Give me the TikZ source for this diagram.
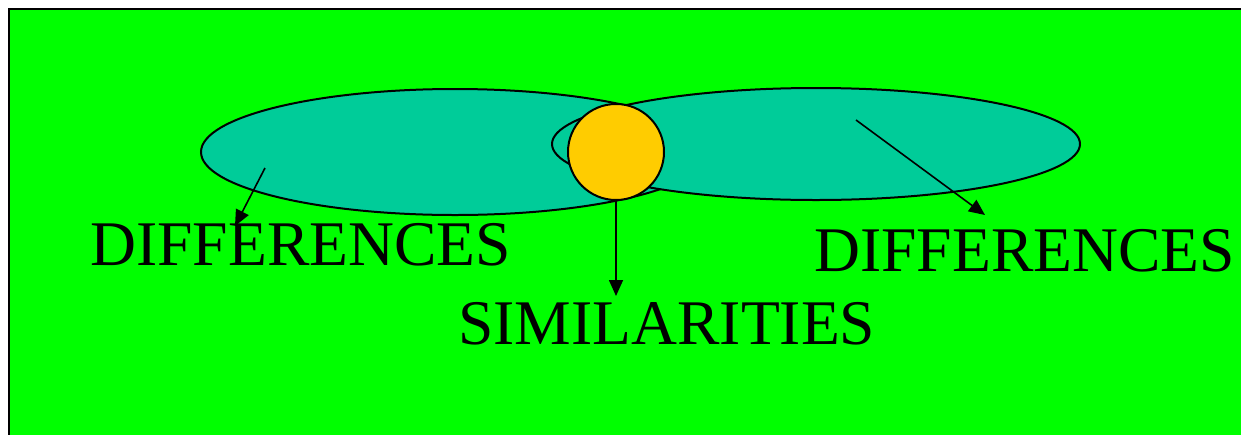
\documentclass[tikz,border=0pt]{standalone}
\usepackage{fontspec}
\setmainfont{Liberation Serif}
\usetikzlibrary{shapes.geometric,arrows.meta}
\definecolor{bggreen}{RGB}{0,255,0}
\definecolor{teal1}{RGB}{0,204,153}
\definecolor{gold1}{RGB}{255,204,0}
\begin{document}
\begin{tikzpicture}[x=0.5pt,y=-0.5pt,
  oval/.style={ellipse,draw=black,fill=teal1,line width=1pt,inner sep=0pt},
  ball/.style={circle,draw=black,fill=gold1,line width=1pt,inner sep=0pt,minimum size=48pt},
  lbl/.style={anchor=base west,inner sep=0pt,font=\fontsize{31.8}{36}\selectfont},
  arr/.style={line width=0.8pt,-{Triangle[length=8pt,width=7pt]}}]
\useasboundingbox (0,0) rectangle (1241,434);
\fill[white] (0,0) rectangle (1241,434);
\fill[bggreen] (9,9) rectangle (1245,440);
\draw[line width=1pt] (9,440) -- (9,9) -- (1245,9);
\node[oval,minimum width=254pt,minimum height=63pt] (L) at (455,152) {};
\node[oval,minimum width=264pt,minimum height=56pt] (R) at (816,144) {};
\node[ball] (C) at (616,152) {};
\node[lbl] (dl) at (90,265) {DIFFERENCES};
\node[lbl] (dr) at (814,271) {DIFFERENCES};
\node[lbl] (sim) at (458,344) {SIMILARITIES};
\coordinate (a1) at (265,168);
\coordinate (b1) at (235,226);
\coordinate (a3) at (856,120);
\coordinate (b3) at (985,215);
\coordinate (b2) at (616,296);
\draw[arr] (a1) -- (b1);
\draw[arr] (C.south) -- (b2);
\draw[arr] (a3) -- (b3);
\end{tikzpicture}
\end{document}
